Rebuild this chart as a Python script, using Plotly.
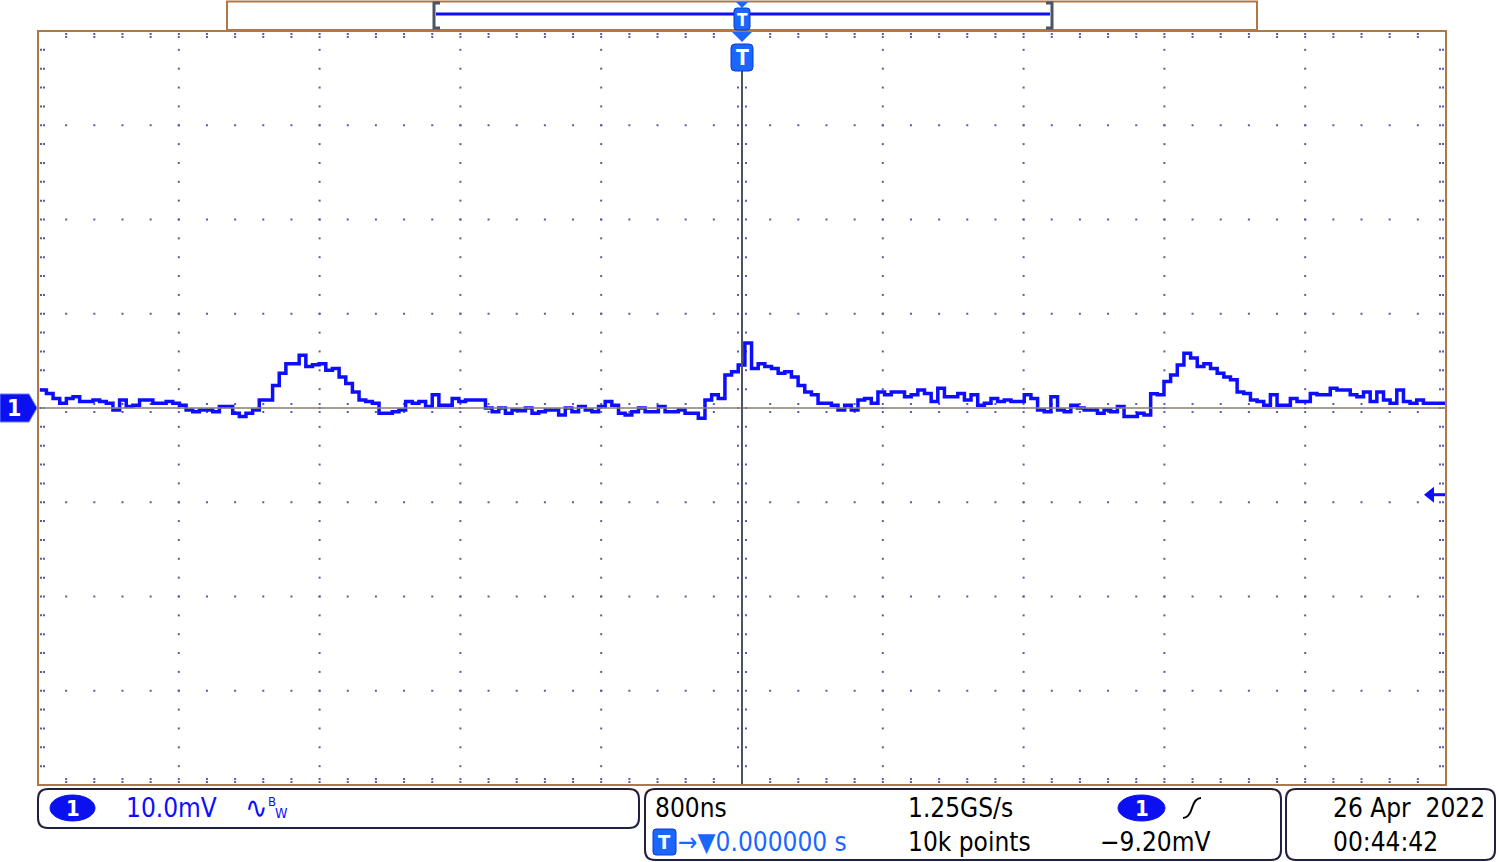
import numpy as np
import plotly.graph_objects as go

# ---------------- data (read from the screen capture) ----------------
# channel 1 voltage in mV, evenly sampled across the 10 horizontal divisions
seg1_mv = [1.9, 1.55, 1.0, 0.5, 1.0, 1.2, 0.7, 0.7, 0.85, 0.7,
           0.5, -0.2, 0.85, 0.15, 0.3, 0.85, 0.85, 0.5, 0.5, 0.7,
           0.5, 0.3, -0.2, -0.4, -0.2, -0.2, -0.4, 0.15, 0.15, -0.55,
           -0.9, -0.55, -0.2, 0.85, 0.85, 2.4, 3.7, 4.7, 4.7, 5.6,
           4.4, 4.6, 4.7, 4.0, 4.2, 3.3, 2.6, 1.7, 0.85, 0.7,
           0.5, -0.55, -0.55, -0.4, -0.2, 0.7, 0.5, 0.7, 0.15, 1.4,
           0.3, 0.3, 1.0, 0.7, 0.85, 0.85, 0.85, 0.0, -0.4, 0.0,
           -0.55, -0.2]
seg2_mv = [-0.3, 0.0, -0.55, -0.4, -0.2, -0.2, -0.75, 0.0, -0.4, 0.15,
           -0.2, -0.4, 0.15, 0.7, 0.3, -0.55, -0.75, -0.4, 0.0, -0.4,
           -0.4, 0.15, -0.4, -0.4, -0.2, -0.55, -0.55, -1.1, 0.85, 1.4,
           1.0, 3.5, 3.85, 4.55, 6.9, 4.2, 4.7, 4.4, 4.2, 3.7,
           3.85, 3.3, 2.4, 1.7, 1.4, 0.5, 0.5, 0.3, -0.2, 0.3,
           -0.2, 0.85, 1.0, 0.5, 1.7, 1.4, 1.7, 1.7, 1.2, 1.4,
           1.9, 1.55, 0.7, 2.1, 1.2, 1.2, 1.55, 0.85, 1.4, 0.3,
           0.5, 1.0]
seg3_mv = [0.7, 0.85, 0.7, 0.7, 1.4, 1.0, -0.2, -0.4, 1.2, -0.2,
           -0.4, 0.3, 0.0, -0.2, -0.2, -0.55, -0.2, -0.4, 0.15, -0.9,
           -0.9, -0.55, -0.75, 1.5, 1.4, 2.8, 3.5, 4.55, 5.8, 5.3,
           4.4, 4.7, 4.2, 3.7, 3.3, 3.0, 1.7, 1.55, 0.85, 0.7,
           0.3, 1.4, 0.3, 0.3, 1.0, 0.7, 0.7, 1.55, 1.4, 1.4,
           2.1, 1.9, 1.9, 1.4, 1.2, 1.7, 0.7, 1.7, 0.85, 0.5,
           1.9, 0.7, 0.5, 0.85, 0.5, 0.5, 0.5, 0.7]
volts_mv = seg1_mv + seg2_mv + seg3_mv
t_first_ns, t_last_ns = -3990, 3985
time_ns = np.linspace(t_first_ns, t_last_ns, len(volts_mv))

# scope settings
time_per_div_ns = 800
volt_per_div_mv = 10
h_divs, v_divs, sub = 10, 8, 5
trigger_level_mv = -9.20

ch_scale_text = "10.0mV"
timebase_text = "800ns"
rate_text = "1.25GS/s"
points_text = "10k points"
trig_text = "\u22129.20mV"
delay_text = "\u2192\u25bc0.000000 s"
date_text = "26 Apr  2022"
clock_text = "00:44:42"

# ---------------- layout helpers ----------------
W, H = 1500, 862
PX0, PX1, PY0, PY1 = 38, 1446, 31, 785
FONT = "DejaVu Sans Condensed, Liberation Sans Narrow, DejaVu Sans, sans-serif"
BROWN = "#b07848"
DOT = "#5a5aa8"
BLUE = "#0d0dff"
TBLUE = "#1a66ff"
DARK = "#4a5466"

xr = [-h_divs / 2 * time_per_div_ns, h_divs / 2 * time_per_div_ns]
yr = [-v_divs / 2 * volt_per_div_mv, v_divs / 2 * volt_per_div_mv]
ns_per_px = (xr[1] - xr[0]) / (PX1 - PX0)
mv_per_px = (yr[1] - yr[0]) / (PY1 - PY0)

fig = go.Figure()

# grid dots
gx, gy = [], []
minor_t = np.arange(xr[0], xr[1] + 1, time_per_div_ns / sub)
minor_v = np.arange(yr[0], yr[1] + 0.01, volt_per_div_mv / sub)
for k in range(1, h_divs):
    tv = xr[0] + k * time_per_div_ns
    if abs(tv) < 1e-6:
        continue
    gx += [tv] * len(minor_v)
    gy += list(minor_v)
for k in range(1, v_divs):
    vv = yr[0] + k * volt_per_div_mv
    if abs(vv) < 1e-6:
        continue
    gx += list(minor_t)
    gy += [vv] * len(minor_t)
# border ticks
for d in (3, 6):
    gx += [xr[0] + d * ns_per_px] * len(minor_v) + [xr[1] - d * ns_per_px] * len(minor_v)
    gy += list(minor_v) * 2
    gx += list(minor_t) * 2
    gy += [yr[1] - d * mv_per_px] * len(minor_t) + [yr[0] + d * mv_per_px] * len(minor_t)
# centre-axis ticks (small dots either side of the centre lines)
for d in (-4, 4):
    gx += [d * ns_per_px] * len(minor_v)
    gy += list(minor_v)
    gx += list(minor_t)
    gy += [d * mv_per_px] * len(minor_t)
fig.add_trace(go.Scatter(x=gx, y=gy, mode="markers", hoverinfo="skip",
                         marker=dict(symbol="square", size=2, color=DOT, line=dict(width=0)),
                         showlegend=False))

# waveform
fig.add_trace(go.Scatter(x=time_ns, y=volts_mv, mode="lines", hoverinfo="skip",
                         line=dict(color=BLUE, width=3.5, shape="hv"), showlegend=False))

# pixel overlay axes
fig.update_layout(
    width=W, height=H, margin=dict(l=0, r=0, t=0, b=0),
    paper_bgcolor="white", plot_bgcolor="rgba(0,0,0,0)",
    xaxis=dict(domain=[PX0 / W, PX1 / W], range=xr, visible=False, fixedrange=True),
    yaxis=dict(domain=[(H - PY1) / H, (H - PY0) / H], range=yr, visible=False, fixedrange=True),
    xaxis2=dict(domain=[0, 1], range=[0, W], visible=False, anchor="y2", fixedrange=True),
    yaxis2=dict(domain=[0, 1], range=[H, 0], visible=False, anchor="x2", fixedrange=True),
)
# dummy trace to realise the overlay subplot
fig.add_trace(go.Scatter(x=[1], y=[1], xaxis="x2", yaxis="y2", mode="markers",
                         marker=dict(size=1, color="rgba(0,0,0,0)"), hoverinfo="skip", showlegend=False))

shapes = []
ann = []


def P(path, fill=None, color=None, width=0):
    shapes.append(dict(type="path", xref="x2", yref="y2", path=path, layer="above",
                       fillcolor=fill, line=dict(color=color or "rgba(0,0,0,0)", width=width)))


def L(x0, y0, x1, y1, color, width, dash=None):
    shapes.append(dict(type="line", xref="x2", yref="y2", x0=x0, y0=y0, x1=x1, y1=y1, layer="above",
                       line=dict(color=color, width=width, dash=dash)))


def RR(x0, y0, x1, y1, r):
    return (f"M {x0 + r},{y0} L {x1 - r},{y0} Q {x1},{y0} {x1},{y0 + r} L {x1},{y1 - r} "
            f"Q {x1},{y1} {x1 - r},{y1} L {x0 + r},{y1} Q {x0},{y1} {x0},{y1 - r} "
            f"L {x0},{y0 + r} Q {x0},{y0} {x0 + r},{y0} Z")


def T(x, y, text, color="black", size=26, anchor="left", bold=False):
    ann.append(dict(x=x, y=y, xref="x2", yref="y2", text=f"<b>{text}</b>" if bold else text,
                    showarrow=False, xanchor=anchor, yanchor="middle",
                    font=dict(family=FONT, size=size, color=color)))


# centre lines (drawn over the trace, as on the scope)
cy = PY0 + (PY1 - PY0) / 2
cx = PX0 + (PX1 - PX0) / 2
L(PX0, cy, PX1, cy, "#808080", 1.5)
L(PX0, cy, PX1, cy, "#d08838", 1, "1px,4px")
L(cx, 70, cx, PY1, DARK, 2)

# plot frame
shapes.append(dict(type="rect", xref="x2", yref="y2", x0=PX0, y0=PY0, x1=PX1, y1=PY1, layer="above",
                   line=dict(color=BROWN, width=2)))

# top record-window box
shapes.append(dict(type="rect", xref="x2", yref="y2", x0=227, y0=1.5, x1=1257, y1=30, layer="above",
                   fillcolor="white", line=dict(color=BROWN, width=2)))
L(436, 14, 1050, 14, BLUE, 3)
P("M 440,3 L 434,3 L 434,28 L 440,28", color=DARK, width=3)
P("M 1046,3 L 1052,3 L 1052,28 L 1046,28", color=DARK, width=3)
# small trigger marker in box
P("M 736,2 L 748,2 L 742,8 Z", fill=TBLUE)
P(RR(734, 8, 750, 30, 3), fill=TBLUE, color="#0a3acc", width=1)
T(742, 19.5, "T", "white", 17, "center", True)
# trigger position marker below box
P("M 732,32 L 752,32 L 742,42 Z", fill=TBLUE)
P(RR(731, 44, 753, 71, 4), fill=TBLUE, color="#0a3acc", width=1)
T(742, 58, "T", "white", 21, "center", True)

# channel 1 ground marker
P("M 0,394 L 29,394 L 37,408 L 29,422 L 0,422 Z", fill="#0a10f0", color="#6a7aff", width=1)
T(14, 408, "1", "white", 23, "center", True)
# trigger level arrow
trig_y = cy - trigger_level_mv / mv_per_px
P(f"M 1424,{trig_y} L 1434,{trig_y - 8} L 1434,{trig_y + 8} Z", fill=BLUE)
L(1433, trig_y, 1445, trig_y, BLUE, 3)

# bottom info panels
P(RR(38, 789, 639, 828, 10), color="#202040", width=2)
P(RR(645, 789, 1281, 860, 10), color="#202040", width=2)
P(RR(1286, 789, 1495, 860, 10), color="#202040", width=2)

shapes.append(dict(type="circle", xref="x2", yref="y2", x0=50, y0=795, x1=95, y1=821, layer="above",
                   fillcolor="#0a10f0", line=dict(color="#0a10f0", width=1)))
T(72.5, 808, "1", "white", 22, "center", True)
T(124, 808, ch_scale_text, BLUE)
# bandwidth-limit symbol
T(243, 807, "\u223f", BLUE, 30)
T(266, 801, "B", BLUE, 13)
T(273, 813, "W", BLUE, 14)

T(653, 808, timebase_text)
T(906, 808, rate_text)
shapes.append(dict(type="circle", xref="x2", yref="y2", x0=1118, y0=795, x1=1165, y1=821, layer="above",
                   fillcolor="#0a10f0", line=dict(color="#0a10f0", width=1)))
T(1141.5, 808, "1", "white", 22, "center", True)
P("M 1183,818 Q 1189,818 1192,808 Q 1195,798 1201,798", color="black", width=2)

P(RR(653, 829, 676, 855, 3), fill=TBLUE, color="#0a3acc", width=1)
T(664.5, 842, "T", "white", 20, "center", True)
T(676, 842, delay_text, TBLUE)
T(906, 842, points_text)
T(1098, 842, trig_text)

T(1487, 808, date_text, anchor="right")
T(1331, 842, clock_text)

fig.update_layout(shapes=shapes, annotations=ann)
fig.write_html("out.html", config={"displayModeBar": False},
               post_script="document.body.style.margin='0px';")
